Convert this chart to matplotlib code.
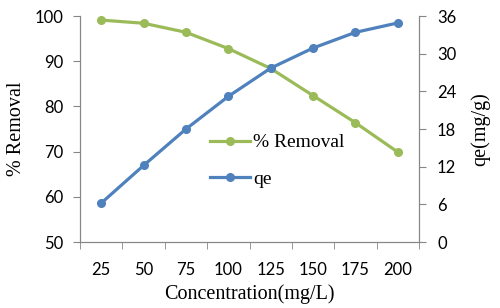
import numpy as np
import matplotlib.pyplot as plt

conc = ['25', '50', '75', '100', '125', '150', '175', '200']
removal = [99.1, 98.4, 96.4, 92.8, 88.4, 82.4, 76.4, 69.9]
qe = [6.2, 12.2, 18.0, 23.2, 27.7, 30.9, 33.4, 34.9]

green = '#9BBB59'
blue = '#4F81BD'
grey = '#868686'
tickfont = {'family': 'Lato', 'size': 12}
labfont = {'family': 'Liberation Serif', 'size': 14.5}

fig, ax = plt.subplots(figsize=(5, 3.08), dpi=100)
fig.subplots_adjust(left=0.16, right=0.838, top=0.948, bottom=0.214)
ax2 = ax.twinx()

x = np.arange(len(conc))
ax.plot(x, removal, color=green, lw=2.3, marker='o', ms=5.5, label='% Removal')
ax2.plot(x, qe, color=blue, lw=2.3, marker='o', ms=5.5, label='qe')

ax.set_xlim(-0.5, len(conc) - 0.5)
ax.set_ylim(50, 100)
ax.set_yticks(range(50, 101, 10))
ax2.set_ylim(0, 36)
ax2.set_yticks(range(0, 37, 6))

ax.set_xticks(x)
ax.set_xticklabels(conc, fontdict=tickfont)
ax.set_xticks(np.arange(-0.5, len(conc)), minor=True)
ax.tick_params(axis='x', which='major', length=0, pad=14)
ax.tick_params(axis='x', which='minor', length=5, color=grey)
ax.tick_params(axis='y', length=5, color=grey, labelsize=12, pad=7)
ax2.tick_params(axis='y', length=5, color=grey, labelsize=12, pad=8)
for lab in ax.get_yticklabels() + ax2.get_yticklabels():
    lab.set_family('Lato')

for a in (ax, ax2):
    a.spines['top'].set_visible(False)
    for s in ('left', 'right', 'bottom'):
        a.spines[s].set_color(grey)

ax.set_xlabel('Concentration(mg/L)', fontdict=labfont, labelpad=5)
ax.set_ylabel('% Removal', fontdict=labfont, labelpad=6)
ax2.set_ylabel('qe(mg/g)', fontdict=labfont, labelpad=10)

h1, l1 = ax.get_legend_handles_labels()
h2, l2 = ax2.get_legend_handles_labels()
ax2.legend(h1 + h2, l1 + l2, loc='center left', bbox_to_anchor=(0.383, 0.36),
           frameon=False, prop={'family': 'Liberation Serif', 'size': 14},
           handlelength=2.06, labelspacing=0.95, handletextpad=0.15,
           borderpad=0, borderaxespad=0)

fig.savefig('out.png')
